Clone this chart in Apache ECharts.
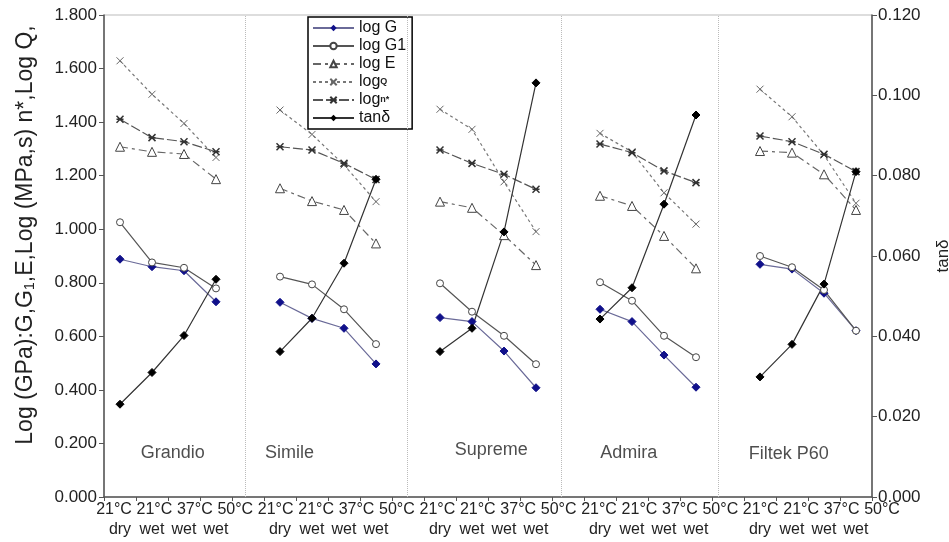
<!DOCTYPE html>
<html lang="en">
<head>
<meta charset="UTF-8">
<title>Log moduli and tanδ by material</title>
<script src="https://cdn.jsdelivr.net/npm/echarts@6/dist/echarts.min.js"></script>
<style>
html, body { margin: 0; padding: 0; background: #fff; }
#chart { width: 949px; height: 542px; }
</style>
</head>
<body>
<div id="chart"></div>
<script>
// materials and test conditions
const materials = ['Grandio', 'Simile', 'Supreme', 'Admira', 'Filtek P60'];
const conditions = ['21°C dry', '21°C wet', '37°C wet', '50°C wet'];

// values per material, 4 conditions each (left axis)
const logG  = [0.888, 0.860, 0.845, 0.729,  0.727, 0.667, 0.630, 0.497,  0.670, 0.655, 0.545, 0.408,  0.701, 0.655, 0.530, 0.410,  0.869, 0.851, 0.761, 0.621];
const logG1 = [1.026, 0.876, 0.856, 0.779,  0.823, 0.794, 0.701, 0.571,  0.798, 0.692, 0.602, 0.496,  0.802, 0.733, 0.602, 0.522,  0.900, 0.858, 0.773, 0.621];
const logE  = [1.308, 1.289, 1.281, 1.187,  1.153, 1.105, 1.072, 0.947,  1.103, 1.080, 0.978, 0.866,  1.125, 1.087, 0.975, 0.854,  1.292, 1.286, 1.205, 1.072];
const logQ  = [1.629, 1.504, 1.395, 1.268,  1.445, 1.354, 1.240, 1.103,  1.448, 1.373, 1.177, 0.991,  1.358, 1.289, 1.136, 1.019,  1.523, 1.420, 1.277, 1.097];
const logN  = [1.411, 1.342, 1.327, 1.289,  1.308, 1.296, 1.246, 1.186,  1.296, 1.246, 1.205, 1.149,  1.318, 1.286, 1.218, 1.174,  1.348, 1.327, 1.280, 1.215];
// right axis
const tanD  = [0.0231, 0.0310, 0.0402, 0.0542,  0.0362, 0.0445, 0.0582, 0.0791,  0.0362, 0.0420, 0.0660, 0.1031,  0.0443, 0.0521, 0.0729, 0.0951,  0.0299, 0.0380, 0.0530, 0.0810];

// axis ticks
const leftTicks = { min: 0, max: 1.8, interval: 0.2 };
const rightTicks = { min: 0, max: 0.12, interval: 0.02 };

// annotation placement, in category units on a hidden 0..24 axis
const materialLabelX = [2.15, 5.8, 12.1, 16.4, 21.4];
const materialLabelY = [0.165, 0.165, 0.176, 0.165, 0.16];
const separatorX = [4.4, 9.47, 14.3, 19.2];

// one blank category between materials, lines break there
const categories = [];
const tempLabels = [];
materials.forEach((m, i) => {
  conditions.forEach(c => { categories.push(m + '|' + c); tempLabels.push(c.split(' ')[0]); });
  if (i < materials.length - 1) categories.push('gap' + i);
});

function spread(vals) {
  const out = [];
  materials.forEach((m, i) => {
    for (let k = 0; k < conditions.length; k++) out.push(vals[i * conditions.length + k]);
    if (i < materials.length - 1) out.push(null);
  });
  return out;
}

const xPath = 'path://M0,0L10,10M10,0L0,10';
const starPath = 'path://M0,0L10,10M10,0L0,10M0,5L10,5';
const FONT = '"Liberation Sans", Arial, sans-serif';

const chart = echarts.init(document.getElementById('chart'));

const option = {
  animation: false,
  textStyle: { fontFamily: FONT, color: '#222' },
  grid: {
    left: 104, right: 77, top: 15, bottom: 45,
    outerBoundsMode: 'none',
    show: true, borderColor: '#bbb', borderWidth: 1
  },
  legend: {
    data: ['log G', 'log G1', 'log E', 'log Q', 'log n*', 'tanδ'],
    orient: 'vertical',
    left: 308, top: 17,
    padding: [3, 6, 3, 4],
    itemGap: 2,
    itemWidth: 41,
    itemHeight: 8,
    borderColor: '#000',
    borderWidth: 1.5,
    backgroundColor: '#fff',
    textStyle: {
      fontFamily: FONT, fontSize: 16, color: '#111', lineHeight: 16,
      rich: { s: { fontSize: 9, fontWeight: 'bold', fontFamily: FONT } }
    },
    formatter: function (name) {
      if (name === 'log Q') return 'log{s|Q}';
      if (name === 'log n*') return 'log{s|n*}';
      return name;
    }
  },
  xAxis: [
    {
      type: 'category',
      data: categories,
      position: 'bottom',
      boundaryGap: true,
      axisLine: { lineStyle: { color: '#555', width: 1.5 } },
      axisTick: { show: true, length: 4, lineStyle: { color: '#555' } },
      axisLabel: {
        interval: 0, margin: 25, fontSize: 16, color: '#222',
        formatter: v => v.startsWith('gap') ? '' : v.split('|')[1].split(' ')[1]
      },
      splitLine: { show: false }
    },
    {
      type: 'category',
      data: tempLabels,
      position: 'bottom',
      offset: 0,
      boundaryGap: false,
      axisLine: { show: false },
      axisTick: { show: false },
      axisLabel: { interval: 0, margin: 5, fontSize: 16, color: '#222', padding: [0, 0, 0, 20], showMinLabel: true, showMaxLabel: true },
      splitLine: { show: false }
    },
    { type: 'value', min: 0, max: 24, show: false }
  ],
  yAxis: [
    {
      type: 'value',
      position: 'left',
      min: leftTicks.min, max: leftTicks.max, interval: leftTicks.interval,
      axisLine: { show: true, lineStyle: { color: '#555', width: 1.5 } },
      axisTick: { show: true, length: 5, lineStyle: { color: '#555' } },
      axisLabel: { fontSize: 17, color: '#222', margin: 7, formatter: v => v.toFixed(3) },
      splitLine: { show: false },
      name: 'Log (GPa):G,G{sub|1},E,Log (MPa,s) n*,Log Q,',
      nameLocation: 'middle',
      nameGap: 67,
      nameTextStyle: {
        fontFamily: FONT, fontSize: 23, color: '#222', lineHeight: 23,
        padding: [0, 0, 0, 42],
        rich: { sub: { fontSize: 14, fontFamily: FONT, padding: [9, 0, 0, 0] } }
      }
    },
    {
      type: 'value',
      position: 'right',
      min: rightTicks.min, max: rightTicks.max, interval: rightTicks.interval,
      axisLine: { show: true, lineStyle: { color: '#555', width: 1.5 } },
      axisTick: { show: true, length: 5, lineStyle: { color: '#555' } },
      axisLabel: { fontSize: 17, color: '#222', margin: 6, formatter: v => v.toFixed(3) },
      splitLine: { show: false },
      name: 'tanδ',
      nameLocation: 'middle',
      nameGap: 63,
      nameRotate: 90,
      nameTextStyle: { fontFamily: FONT, fontSize: 17, color: '#222' }
    }
  ],
  series: [
    {
      name: 'log G', type: 'line', data: spread(logG),
      symbol: 'diamond', symbolSize: 8,
      itemStyle: { color: '#10108a', borderColor: '#10108a' },
      lineStyle: { color: '#6a6a98', width: 1.2 }
    },
    {
      name: 'log G1', type: 'line', data: spread(logG1),
      symbol: 'circle', symbolSize: 7,
      itemStyle: { color: '#fff', borderColor: '#444', borderWidth: 1 },
      lineStyle: { color: '#555', width: 1.2 }
    },
    {
      name: 'log E', type: 'line', data: spread(logE),
      symbol: 'triangle', symbolSize: 9,
      itemStyle: { color: '#fff', borderColor: '#444', borderWidth: 1 },
      lineStyle: { color: '#666', width: 1.2, type: [8, 4, 3, 4] }
    },
    {
      name: 'log Q', type: 'line', data: spread(logQ),
      symbol: xPath, symbolSize: 7,
      itemStyle: { color: '#666', borderColor: '#666', borderWidth: 1 },
      lineStyle: { color: '#777', width: 1.2, type: [3, 3] }
    },
    {
      name: 'log n*', type: 'line', data: spread(logN),
      symbol: starPath, symbolSize: 7,
      itemStyle: { color: '#333', borderColor: '#333', borderWidth: 1.5 },
      lineStyle: { color: '#555', width: 1.2, type: [10, 3] }
    },
    {
      name: 'tanδ', type: 'line', yAxisIndex: 1, data: spread(tanD),
      symbol: 'diamond', symbolSize: 8,
      itemStyle: { color: '#000', borderColor: '#000' },
      lineStyle: { color: '#333', width: 1.2 }
    },
    {
      name: 'materials', type: 'scatter', xAxisIndex: 2, yAxisIndex: 0,
      symbolSize: 0,
      data: materials.map((m, i) => ({ name: m, value: [materialLabelX[i], materialLabelY[i]] })),
      label: { show: true, position: 'inside', formatter: '{b}', fontSize: 18, color: '#222', fontFamily: FONT },
      silent: true,
      markLine: {
        silent: true,
        symbol: ['none', 'none'],
        label: { show: false },
        lineStyle: { type: 'dotted', color: '#bbb', width: 1 },
        data: separatorX.map(x => ({ xAxis: x }))
      }
    }
  ]
};

chart.setOption(option);
window.addEventListener('resize', () => chart.resize());
</script>
</body>
</html>
